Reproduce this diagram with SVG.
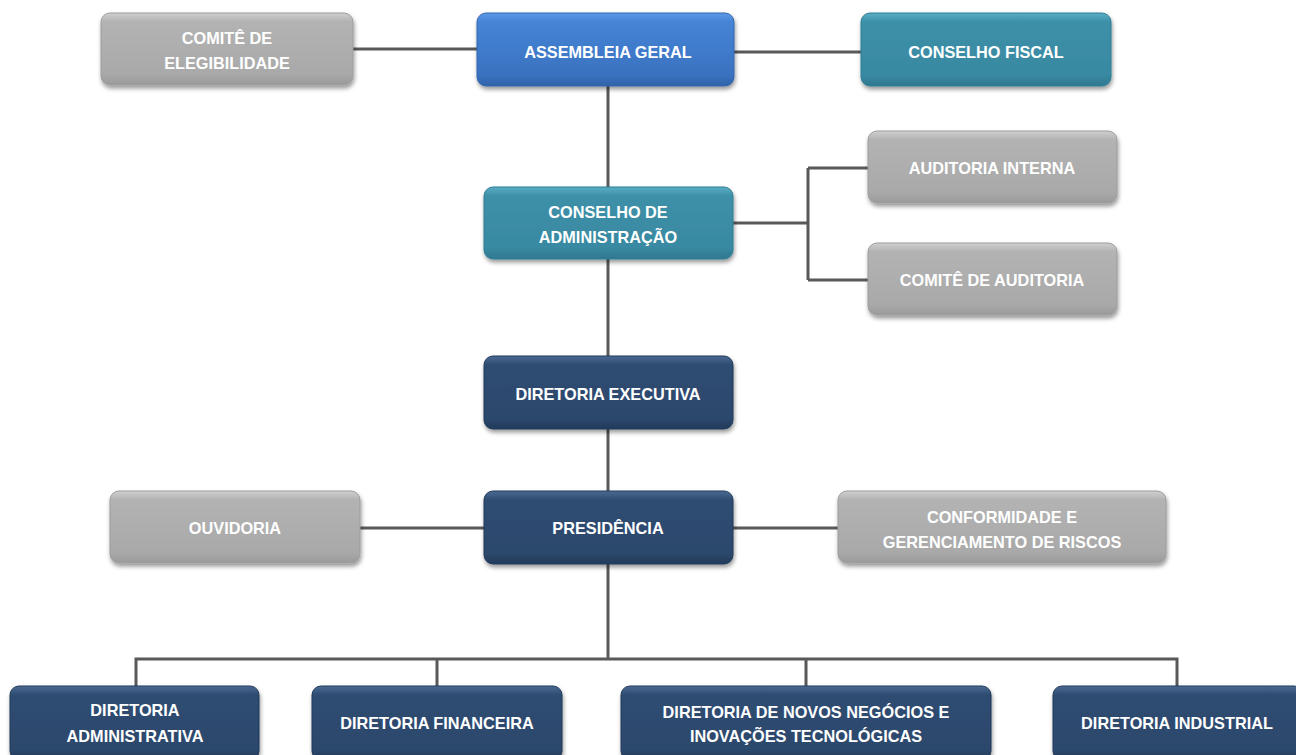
<svg xmlns="http://www.w3.org/2000/svg" width="1296" height="755" viewBox="0 0 1296 755">
<defs>
<linearGradient id="gGray" x1="0" y1="0" x2="0" y2="1">
<stop offset="0" stop-color="#cfcfcf"/><stop offset="0.12" stop-color="#b3b3b3"/><stop offset="0.85" stop-color="#a9a9a9"/><stop offset="1" stop-color="#9a9a9a"/>
</linearGradient>
<linearGradient id="gBlue" x1="0" y1="0" x2="0" y2="1">
<stop offset="0" stop-color="#5d9ae6"/><stop offset="0.12" stop-color="#4684d6"/><stop offset="0.85" stop-color="#3a72c0"/><stop offset="1" stop-color="#2f62a8"/>
</linearGradient>
<linearGradient id="gTeal" x1="0" y1="0" x2="0" y2="1">
<stop offset="0" stop-color="#5aaec4"/><stop offset="0.12" stop-color="#3d90a8"/><stop offset="0.85" stop-color="#3889a1"/><stop offset="1" stop-color="#2e7890"/>
</linearGradient>
<linearGradient id="gNavy" x1="0" y1="0" x2="0" y2="1">
<stop offset="0" stop-color="#4a6a92"/><stop offset="0.12" stop-color="#2f4c72"/><stop offset="0.85" stop-color="#2c486c"/><stop offset="1" stop-color="#223a5a"/>
</linearGradient>
<filter id="sh" x="-10%" y="-20%" width="120%" height="150%">
<feDropShadow dx="1" dy="3" stdDeviation="2" flood-color="#000" flood-opacity="0.4"/>
</filter>
</defs>
<style>
.box{filter:url(#sh);stroke-width:1}
.gray{fill:url(#gGray);stroke:#9c9c9c}
.blue{fill:url(#gBlue);stroke:#3266ad}
.teal{fill:url(#gTeal);stroke:#2f7d94}
.navy{fill:url(#gNavy);stroke:#223a5a}
text{font-family:"Liberation Sans",Arial,sans-serif;font-weight:bold;font-size:16.3px;fill:#ffffff;text-anchor:middle;dominant-baseline:central}
.c{fill:none;stroke:#595959;stroke-width:3}
</style>
<rect width="1296" height="755" fill="#ffffff"/>
<g id="connectors">
<path class="c" d="M353 49 H477"/>
<path class="c" d="M734 52 H861"/>
<path class="c" d="M608 86 V187"/>
<path class="c" d="M733 223 H808 M808 168 V280 M808 168 H868 M808 280 H868"/>
<path class="c" d="M608 259 V356"/>
<path class="c" d="M608 429 V491"/>
<path class="c" d="M360 528 H484 M733 528 H838"/>
<path class="c" d="M608 564 V659"/>
<path class="c" d="M136 686 V659 H1177 V686 M437 659 V686 M806 659 V686"/>
</g>
<g id="comite-elegibilidade"><rect class="box gray" x="101" y="13" width="252" height="72" rx="9"/><text x="227" y="38">COMITÊ DE</text><text x="227" y="63">ELEGIBILIDADE</text></g>
<g id="assembleia-geral"><rect class="box blue" x="477" y="13" width="257" height="73" rx="9"/><text x="608" y="52">ASSEMBLEIA GERAL</text></g>
<g id="conselho-fiscal"><rect class="box teal" x="861" y="13" width="250" height="73" rx="9"/><text x="986" y="52">CONSELHO FISCAL</text></g>
<g id="conselho-administracao"><rect class="box teal" x="484" y="187" width="249" height="72" rx="9"/><text x="608" y="212">CONSELHO DE</text><text x="608" y="237">ADMINISTRAÇÃO</text></g>
<g id="auditoria-interna"><rect class="box gray" x="868" y="131" width="249" height="72" rx="9"/><text x="992" y="168">AUDITORIA INTERNA</text></g>
<g id="comite-auditoria"><rect class="box gray" x="868" y="243" width="249" height="72" rx="9"/><text x="992" y="280">COMITÊ DE AUDITORIA</text></g>
<g id="diretoria-executiva"><rect class="box navy" x="484" y="356" width="249" height="73" rx="9"/><text x="608" y="394">DIRETORIA EXECUTIVA</text></g>
<g id="ouvidoria"><rect class="box gray" x="110" y="491" width="250" height="72" rx="9"/><text x="235" y="528">OUVIDORIA</text></g>
<g id="presidencia"><rect class="box navy" x="484" y="491" width="249" height="73" rx="9"/><text x="608" y="528">PRESIDÊNCIA</text></g>
<g id="conformidade"><rect class="box gray" x="838" y="491" width="328" height="72" rx="9"/><text x="1002" y="517">CONFORMIDADE E</text><text x="1002" y="542">GERENCIAMENTO DE RISCOS</text></g>
<g id="diretoria-administrativa"><rect class="box navy" x="10" y="686" width="249" height="74" rx="9"/><text x="135" y="710">DIRETORIA</text><text x="135" y="736">ADMINISTRATIVA</text></g>
<g id="diretoria-financeira"><rect class="box navy" x="312" y="686" width="250" height="74" rx="9"/><text x="437" y="723">DIRETORIA FINANCEIRA</text></g>
<g id="diretoria-novos-negocios"><rect class="box navy" x="621" y="686" width="370" height="74" rx="9"/><text x="806" y="712">DIRETORIA DE NOVOS NEGÓCIOS E</text><text x="806" y="736">INOVAÇÕES TECNOLÓGICAS</text></g>
<g id="diretoria-industrial"><rect class="box navy" x="1053" y="686" width="250" height="74" rx="9"/><text x="1177" y="723">DIRETORIA INDUSTRIAL</text></g>
</svg>
